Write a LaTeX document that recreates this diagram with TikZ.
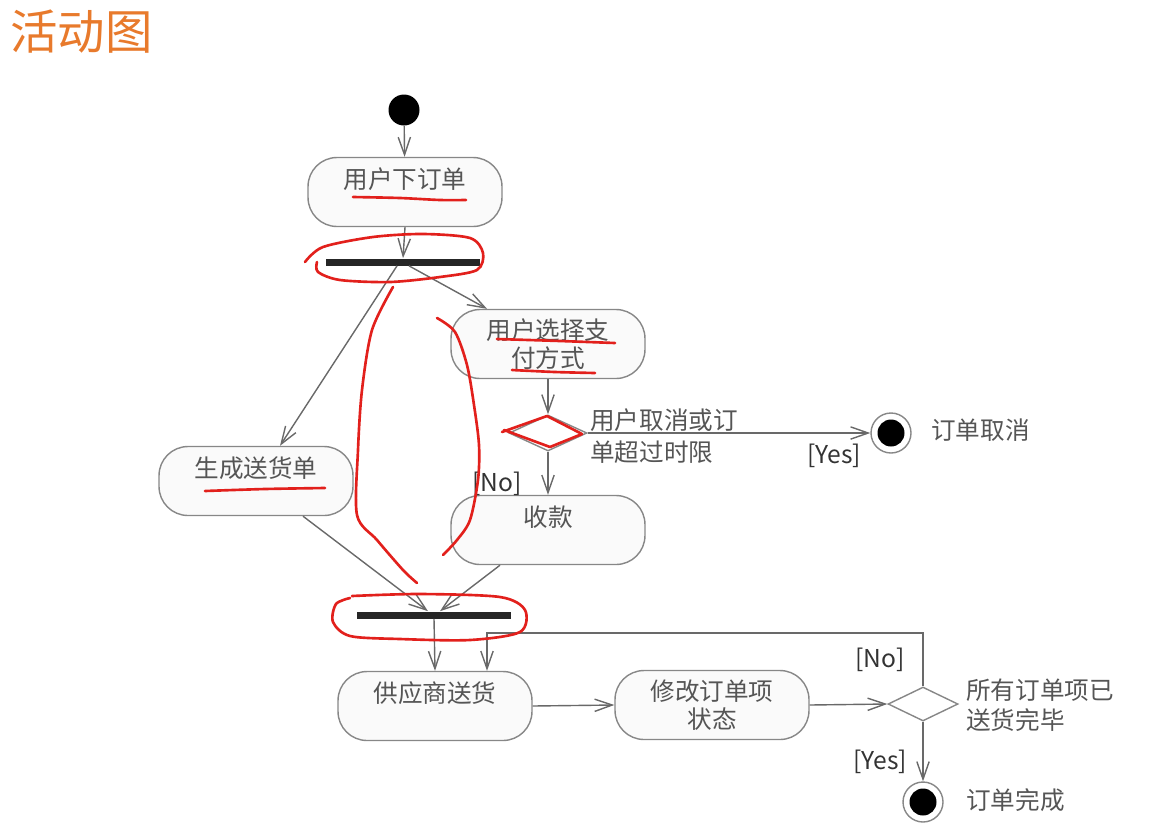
\documentclass[tikz,border=0pt]{standalone}
\usepackage{fontspec}
\setmainfont{Noto Sans CJK SC}
\usepackage{tikz}
\usetikzlibrary{
  shapes.geometric,
  arrows.meta,
  positioning,
  calc
}
\definecolor{TitleOrange}{RGB}{232, 122, 44}
\definecolor{LineGray}{RGB}{105, 105, 105}
\definecolor{BoxGray}{RGB}{135, 135, 135}
\definecolor{TextGray}{RGB}{85, 85, 85}
\definecolor{BoxFill}{RGB}{250, 250, 250}
\definecolor{MarkRed}{RGB}{226, 32, 28}
\tikzset{
    actbox/.style={rectangle, draw=BoxGray, fill=BoxFill, line width=0.8pt, rounded corners=0.58cm,
        minimum width=3.88cm, minimum height=1.38cm, align=center, text=TextGray,
        font=\fontsize{14}{15.5}\selectfont},
    syncbar/.style={rectangle, fill=black!85, minimum width=3.08cm, minimum height=0.14cm, inner sep=0pt},
    decision/.style={diamond, draw=BoxGray, fill=white, line width=0.8pt, inner sep=0pt},
    startdot/.style={circle, fill=black, minimum size=0.62cm, inner sep=0pt},
    enddot/.style={circle, draw=BoxGray, fill=white, line width=0.8pt, minimum size=0.8cm, inner sep=0pt,
        path picture={\fill[black] (path picture bounding box.center) circle (0.27cm);}},
    flow/.style={draw=LineGray, line width=0.8pt, -{Straight Barb[length=10pt, width=7pt]}},
    note/.style={text=TextGray, font=\fontsize{14}{18}\selectfont, align=left, inner sep=0pt},
    guard/.style={text=black!80, font=\fontsize{14}{16}\selectfont, inner sep=0pt},
    redmark/.style={draw=MarkRed, line width=1.5pt, line cap=round, line join=round}
}

\begin{document}
\begin{tikzpicture}[x=0.02cm, y=-0.02cm]
    \useasboundingbox (0,0) rectangle (1159,836);
    \node[text=TitleOrange, font=\fontsize{27}{30}\selectfont, anchor=west, inner sep=0pt] (title) at (10,32) {活动图};

    % nodes
    \node[startdot] (start) at (404,110) {};
    \node[actbox] (order) at (405,192) {用户下订单\\\mbox{}};
    \node[syncbar] (fork) at (403,262) {};
    \node[actbox] (pay) at (548,344) {用户选择支\\付方式};
    \node[decision, minimum width=1.56cm, minimum height=0.72cm] (cancelq) at (548,433) {};
    \node[enddot] (cancel) at (891,433) {};
    \node[actbox] (ship) at (256,481) {生成送货单\\\mbox{}};
    \node[actbox] (collect) at (548,530) {收款\\\mbox{}};
    \node[syncbar] (join) at (434,615) {};
    \node[actbox] (supply) at (435,706) {供应商送货\\\mbox{}};
    \node[actbox] (update) at (712,705) {修改订单项\\状态};
    \node[decision, minimum width=1.4cm, minimum height=0.68cm] (doneq) at (923,704) {};
    \node[enddot] (done) at (923,802) {};
    \coordinate (loopturn) at (487,633);

    % labels
    \node[note, anchor=west] (cancelqtext) at (590,436) {用户取消或订\\单超过时限};
    \node[guard] (yescancel) at (834,456) {[Yes]};
    \node[note, anchor=west] (canceltext) at (931,430) {订单取消};
    \node[guard] (nocollect) at (497,484) {[No]};
    \node[guard] (noloop) at (880,660) {[No]};
    \node[note, anchor=west, font=\fontsize{14}{17}\selectfont] (doneqtext) at (966,705) {所有订单项已\\送货完毕};
    \node[guard] (yesdone) at (880,762) {[Yes]};
    \node[note, anchor=west] (donetext) at (966,800) {订单完成};

    % connectors
    \draw[flow] (start) -- (order);
    \draw[flow] (order.south) -- (fork.north);
    \draw[flow] ($(fork.south)+(-6,0)$) -- ($(ship.north)+(24,0)$);
    \draw[flow] ($(fork.south)+(6,0)$) -- ($(pay.north)+(-61,0)$);
    \draw[flow] (pay.south) -- (cancelq.north);
    \draw[flow] (cancelq.east) -- (cancel);
    \draw[flow] (cancelq.south) -- (collect.north);
    \draw[flow] ($(ship.south)+(47,0)$) -- ($(join.north)+(-6,0)$);
    \draw[flow] ($(collect.south)+(-48,0)$) -- ($(join.north)+(6,0)$);
    \draw[flow] (join.south) -- (supply.north);
    \draw[flow] (supply.east) -- (update.west);
    \draw[flow] (update.east) -- (doneq.west);
    \draw[flow] (doneq.south) -- (done);
    \draw[flow] (doneq.north) |- (loopturn) -- (loopturn |- supply.north);

    % red marks
    \draw[redmark] plot[smooth] coordinates {(353,197) (400,198) (440,200) (466,200)};
    \draw[redmark] plot[smooth] coordinates {(305,262) (323,247) (373,237) (423,234) (470,238) (483,253)
        (477,270) (440,277) (390,282) (340,280) (318,272) (317,262)};
    \draw[redmark] plot[smooth] coordinates {(497,339) (560,341) (615,343)};
    \draw[redmark] plot[smooth] coordinates {(512,370) (555,372) (595,373)};
    \draw[redmark] (502,432) -- (547,416) -- (582,434) -- (550,447) -- (504,430);
    \draw[redmark] plot[smooth] coordinates {(205,491) (265,489) (325,488)};
    \draw[redmark] plot[smooth] coordinates {(393,287) (372,330) (362,390) (358,450) (357,515)
        (377,540) (403,570) (417,583)};
    \draw[redmark] plot[smooth] coordinates {(437,318) (455,332) (467,365) (474,405) (479,445)
        (478,480) (470,520) (457,540) (443,555)};
    \draw[redmark] plot[smooth] coordinates {(352,596) (420,594) (500,597) (525,610) (520,632)
        (470,640) (400,639) (350,636) (333,622) (336,604) (350,598)};
\end{tikzpicture}
\end{document}
